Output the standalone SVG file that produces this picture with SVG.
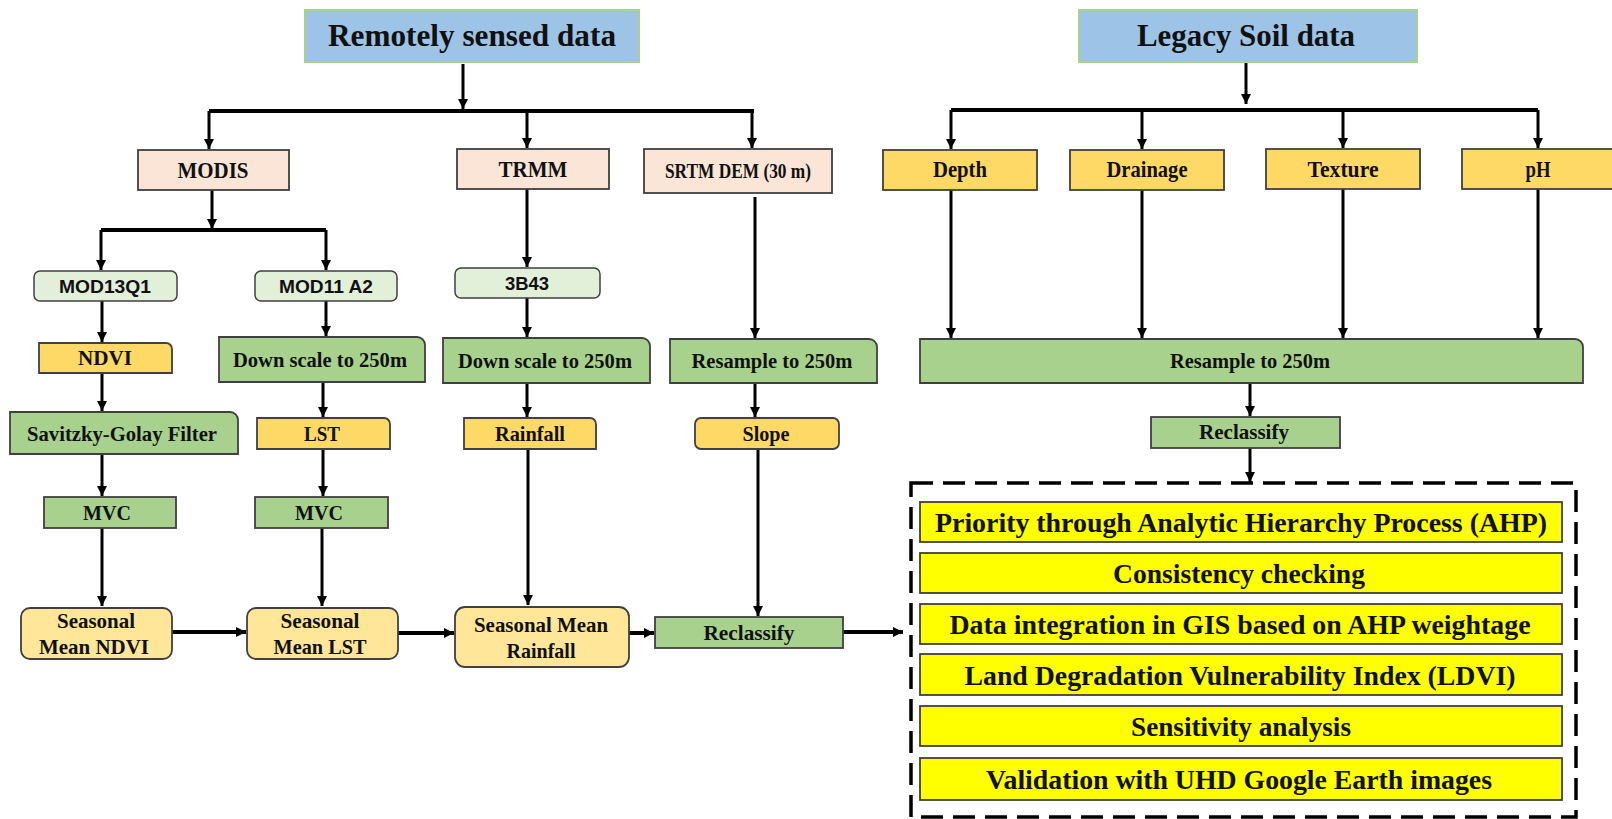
<svg xmlns="http://www.w3.org/2000/svg" width="1612" height="819" viewBox="0 0 1612 819">
<style>
text{font-family:"Liberation Serif","Times New Roman",serif;font-weight:bold;fill:#111;text-anchor:middle}
.sans{font-family:"Liberation Sans",Arial,sans-serif}
.hdr{fill:#9dc3e6;stroke:#a6d38c;stroke-width:2}
.src{fill:#fbe5d6;stroke:#404040;stroke-width:1.8}
.gold{fill:#ffd966;stroke:#404040;stroke-width:1.8}
.lg{fill:#e2f0d9;stroke:#404040;stroke-width:1.5}
.grn{fill:#a9d18e;stroke:#404040;stroke-width:1.8}
.ly{fill:#ffe699;stroke:#404040;stroke-width:1.8}
.yel{fill:#ffff00;stroke:#404040;stroke-width:1.8}
.bar{fill:none;stroke:#000;stroke-width:4}
.a{fill:none;stroke:#000;stroke-width:3;marker-end:url(#ah)}
.ah{fill:none;stroke:#000;stroke-width:4;marker-end:url(#ah)}
.dash{fill:none;stroke:#000;stroke-width:3.5;stroke-dasharray:22 10}
</style>
<defs>
<marker id="ah" viewBox="0 0 10 10" refX="10" refY="5" markerWidth="11" markerHeight="10" markerUnits="userSpaceOnUse" orient="auto">
<path d="M0,0 L10,5 L0,10 z" fill="#000"/>
</marker>
</defs>
<rect width="1612" height="819" fill="#fff"/>

<g id="connectors">
<line class="a" x1="463" y1="64" x2="463" y2="109"/>
<line class="bar" x1="209" y1="111" x2="754" y2="111"/>
<line class="a" x1="209" y1="111" x2="209" y2="149"/>
<line class="a" x1="527" y1="111" x2="527" y2="148"/>
<line class="a" x1="752" y1="111" x2="752" y2="148"/>
<line class="a" x1="1246" y1="62" x2="1246" y2="104"/>
<line class="bar" x1="951" y1="110" x2="1538" y2="110"/>
<line class="a" x1="951" y1="110" x2="951" y2="149"/>
<line class="a" x1="1142" y1="110" x2="1142" y2="149"/>
<line class="a" x1="1343" y1="110" x2="1343" y2="148"/>
<line class="a" x1="1538" y1="110" x2="1538" y2="148"/>
<line class="a" x1="212" y1="190" x2="212" y2="229"/>
<line class="bar" x1="101" y1="230" x2="326" y2="230"/>
<line class="a" x1="101" y1="230" x2="101" y2="270"/>
<line class="a" x1="326" y1="230" x2="326" y2="270"/>
<line class="a" x1="527" y1="189" x2="527" y2="267"/>
<line class="a" x1="755" y1="197" x2="755" y2="338"/>
<line class="a" x1="102" y1="301" x2="102" y2="342"/>
<line class="a" x1="102" y1="373" x2="102" y2="411"/>
<line class="a" x1="102" y1="454" x2="102" y2="496"/>
<line class="a" x1="102" y1="528" x2="102" y2="606"/>
<line class="a" x1="326" y1="301" x2="326" y2="336"/>
<line class="a" x1="323" y1="382" x2="323" y2="417"/>
<line class="a" x1="323" y1="449" x2="323" y2="496"/>
<line class="a" x1="322" y1="528" x2="322" y2="606"/>
<line class="a" x1="527" y1="298" x2="527" y2="337"/>
<line class="a" x1="527" y1="383" x2="527" y2="417"/>
<line class="a" x1="528" y1="449" x2="528" y2="605"/>
<line class="a" x1="755" y1="383" x2="755" y2="417"/>
<line class="a" x1="758" y1="449" x2="758" y2="616"/>
<line class="a" x1="951" y1="190" x2="951" y2="338"/>
<line class="a" x1="1142" y1="190" x2="1142" y2="338"/>
<line class="a" x1="1343" y1="189" x2="1343" y2="338"/>
<line class="a" x1="1538" y1="189" x2="1538" y2="338"/>
<line class="a" x1="1250" y1="383" x2="1250" y2="416"/>
<line class="a" x1="1250" y1="448" x2="1250" y2="482"/>
<line class="ah" x1="172" y1="632" x2="246" y2="632"/>
<line class="ah" x1="398" y1="633" x2="454" y2="633"/>
<line class="ah" x1="629" y1="633" x2="654" y2="633"/>
<line class="ah" x1="843" y1="632" x2="903" y2="632"/>
</g>

<g id="remotely-sensed"><rect class="hdr" x="305" y="10" width="334" height="52"/><text x="472" y="46" font-size="32" textLength="288" lengthAdjust="spacingAndGlyphs">Remotely sensed data</text></g>
<g id="legacy-soil"><rect class="hdr" x="1079" y="10" width="338" height="52"/><text x="1246" y="46" font-size="32" textLength="218" lengthAdjust="spacingAndGlyphs">Legacy Soil data</text></g>

<g id="modis"><rect class="src" x="138" y="150" width="151" height="40"/><text x="213" y="178" font-size="23" textLength="71" lengthAdjust="spacingAndGlyphs">MODIS</text></g>
<g id="trmm"><rect class="src" x="457" y="149" width="152" height="40"/><text x="533" y="177" font-size="23" textLength="69" lengthAdjust="spacingAndGlyphs">TRMM</text></g>
<g id="srtm"><rect class="src" x="644" y="149" width="188" height="44"/><text x="738" y="178" font-size="21" textLength="146" lengthAdjust="spacingAndGlyphs">SRTM DEM (30 m)</text></g>

<g id="depth"><rect class="gold" x="883" y="150" width="154" height="40"/><text x="960" y="177" font-size="23" textLength="54" lengthAdjust="spacingAndGlyphs">Depth</text></g>
<g id="drainage"><rect class="gold" x="1070" y="150" width="154" height="40"/><text x="1147" y="177" font-size="23" textLength="81" lengthAdjust="spacingAndGlyphs">Drainage</text></g>
<g id="texture"><rect class="gold" x="1266" y="149" width="154" height="40"/><text x="1343" y="177" font-size="23" textLength="71" lengthAdjust="spacingAndGlyphs">Texture</text></g>
<g id="ph"><rect class="gold" x="1462" y="149" width="154" height="40"/><text x="1538" y="177" font-size="23" textLength="25" lengthAdjust="spacingAndGlyphs">pH</text></g>

<g id="mod13q1"><rect class="lg" x="34" y="271" width="143" height="30" rx="6"/><text class="sans" x="105" y="293" font-size="18" textLength="92" lengthAdjust="spacingAndGlyphs">MOD13Q1</text></g>
<g id="mod11a2"><rect class="lg" x="255" y="271" width="142" height="30" rx="6"/><text class="sans" x="326" y="293" font-size="18" textLength="94" lengthAdjust="spacingAndGlyphs">MOD11 A2</text></g>
<g id="b3b43"><rect class="lg" x="455" y="268" width="145" height="30" rx="6"/><text class="sans" x="527" y="290" font-size="18" textLength="44" lengthAdjust="spacingAndGlyphs">3B43</text></g>

<g id="ndvi"><path class="gold" d="M39 343 H166 A6 6 0 0 1 172 349 V373 H39 Z"/><text x="105" y="365" font-size="22" textLength="54" lengthAdjust="spacingAndGlyphs">NDVI</text></g>
<g id="savitzky"><path class="grn" d="M10 412 H230 A8 8 0 0 1 238 420 V454 H10 Z"/><text x="122" y="441" font-size="22" textLength="190" lengthAdjust="spacingAndGlyphs">Savitzky-Golay  Filter</text></g>
<g id="mvc1"><rect class="grn" x="44" y="497" width="132" height="31"/><text x="107" y="520" font-size="22" textLength="48" lengthAdjust="spacingAndGlyphs">MVC</text></g>
<g id="sm-ndvi"><rect class="ly" x="21" y="608" width="151" height="51" rx="9"/><text x="96" y="628" font-size="21" textLength="78" lengthAdjust="spacingAndGlyphs">Seasonal</text><text x="94" y="654" font-size="21" textLength="110" lengthAdjust="spacingAndGlyphs">Mean NDVI</text></g>

<g id="downscale1"><path class="grn" d="M219 337 H417 A8 8 0 0 1 425 345 V382 H219 Z"/><text x="320" y="367" font-size="22" textLength="174" lengthAdjust="spacingAndGlyphs">Down  scale to 250m</text></g>
<g id="lst"><path class="gold" d="M257 418 H384 A6 6 0 0 1 390 424 V449 H257 Z"/><text x="322" y="441" font-size="22" textLength="36" lengthAdjust="spacingAndGlyphs">LST</text></g>
<g id="mvc2"><rect class="grn" x="255" y="497" width="133" height="31"/><text x="319" y="520" font-size="22" textLength="48" lengthAdjust="spacingAndGlyphs">MVC</text></g>
<g id="sm-lst"><rect class="ly" x="247" y="608" width="151" height="51" rx="9"/><text x="320" y="628" font-size="21" textLength="79" lengthAdjust="spacingAndGlyphs">Seasonal</text><text x="320" y="654" font-size="21" textLength="93" lengthAdjust="spacingAndGlyphs">Mean LST</text></g>

<g id="downscale2"><path class="grn" d="M443 338 H642 A8 8 0 0 1 650 346 V383 H443 Z"/><text x="545" y="368" font-size="22" textLength="174" lengthAdjust="spacingAndGlyphs">Down  scale to 250m</text></g>
<g id="rainfall"><path class="gold" d="M464 418 H590 A6 6 0 0 1 596 424 V449 H464 Z"/><text x="530" y="441" font-size="22" textLength="70" lengthAdjust="spacingAndGlyphs">Rainfall</text></g>
<g id="sm-rainfall"><rect class="ly" x="455" y="607" width="174" height="60" rx="10"/><text x="541" y="632" font-size="21" textLength="134" lengthAdjust="spacingAndGlyphs">Seasonal Mean</text><text x="541" y="658" font-size="21" textLength="69" lengthAdjust="spacingAndGlyphs">Rainfall</text></g>

<g id="resample1"><path class="grn" d="M670 339 H869 A8 8 0 0 1 877 347 V383 H670 Z"/><text x="772" y="368" font-size="22" textLength="161" lengthAdjust="spacingAndGlyphs">Resample to 250m</text></g>
<g id="slope"><rect class="gold" x="695" y="418" width="144" height="31" rx="6"/><text x="766" y="441" font-size="22" textLength="47" lengthAdjust="spacingAndGlyphs">Slope</text></g>
<g id="reclassify1"><rect class="grn" x="655" y="617" width="188" height="31"/><text x="749" y="640" font-size="22" textLength="91" lengthAdjust="spacingAndGlyphs">Reclassify</text></g>

<g id="resample2"><path class="grn" d="M920 339 H1575 A8 8 0 0 1 1583 347 V383 H920 Z"/><text x="1250" y="368" font-size="22" textLength="160" lengthAdjust="spacingAndGlyphs">Resample to 250m</text></g>
<g id="reclassify2"><rect class="grn" x="1151" y="417" width="189" height="31"/><text x="1244" y="439" font-size="22" textLength="90" lengthAdjust="spacingAndGlyphs">Reclassify</text></g>

<g id="ahp-group">
<rect class="dash" x="911" y="483" width="665" height="334"/>
<g id="ahp"><rect class="yel" x="920" y="502" width="642" height="40"/><text x="1241" y="532" font-size="28" textLength="612" lengthAdjust="spacingAndGlyphs">Priority  through  Analytic  Hierarchy  Process (AHP)</text></g>
<g id="consistency"><rect class="yel" x="920" y="553" width="642" height="40"/><text x="1239" y="583" font-size="28" textLength="252" lengthAdjust="spacingAndGlyphs">Consistency  checking</text></g>
<g id="integration"><rect class="yel" x="920" y="604" width="642" height="40"/><text x="1240" y="634" font-size="28" textLength="581" lengthAdjust="spacingAndGlyphs">Data integration  in  GIS based on AHP weightage</text></g>
<g id="ldvi"><rect class="yel" x="920" y="654" width="642" height="41"/><text x="1240" y="685" font-size="28" textLength="551" lengthAdjust="spacingAndGlyphs">Land Degradation  Vulnerability  Index  (LDVI)</text></g>
<g id="sensitivity"><rect class="yel" x="920" y="706" width="642" height="40"/><text x="1241" y="736" font-size="28" textLength="220" lengthAdjust="spacingAndGlyphs">Sensitivity  analysis</text></g>
<g id="validation"><rect class="yel" x="920" y="758" width="642" height="42"/><text x="1239" y="789" font-size="28" textLength="506" lengthAdjust="spacingAndGlyphs">Validation  with  UHD Google Earth  images</text></g>
</g>
</svg>
